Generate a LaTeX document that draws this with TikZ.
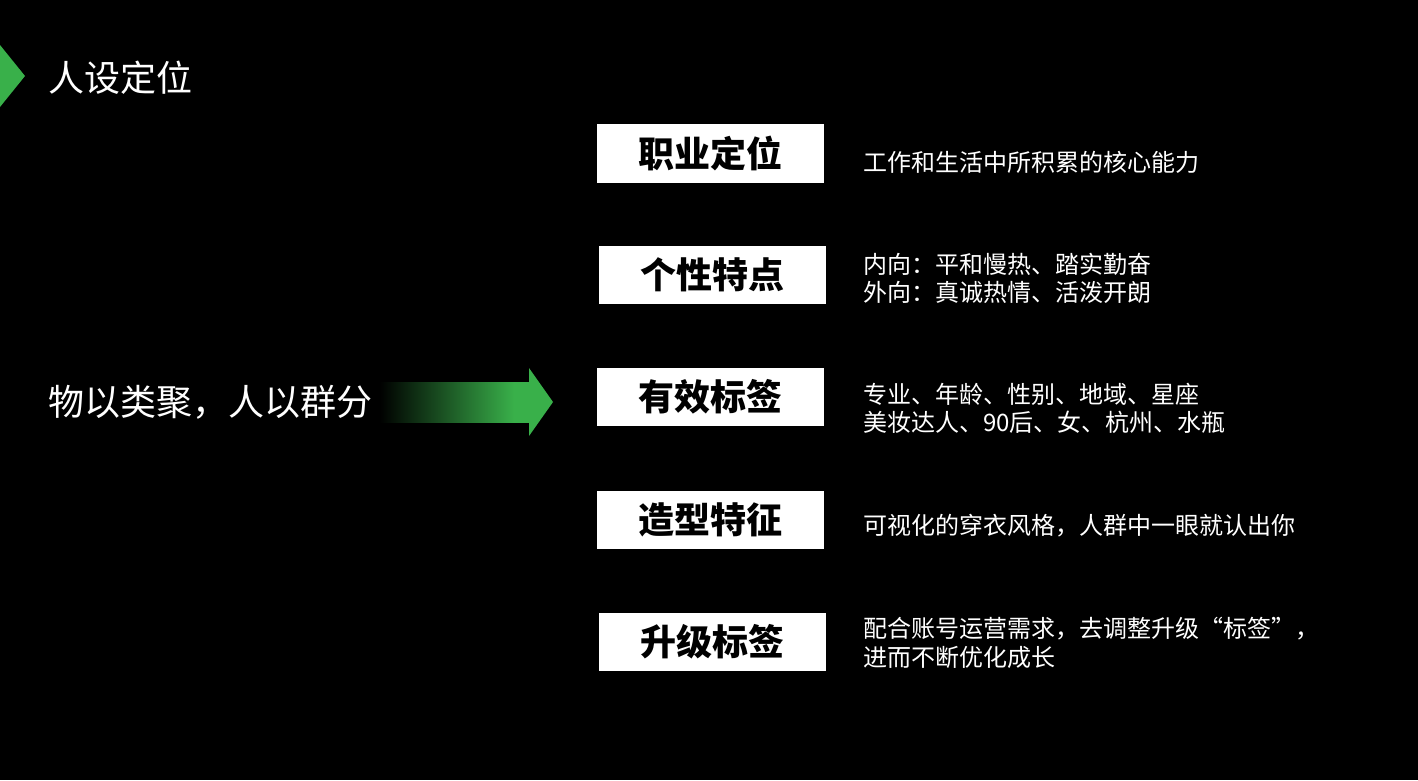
\documentclass[tikz,border=0pt]{standalone}
\usepackage{fontspec}
\newfontfamily\cjk{Noto Sans CJK SC}
\definecolor{grn}{RGB}{57,176,74}
\pgfdeclarehorizontalshading{arrowshade}{100bp}{color(0bp)=(black); color(28bp)=(black); color(45bp)=(black!60!grn); color(70bp)=(grn); color(100bp)=(grn)}
\tikzset{
  tagbox/.style={draw=none, fill=white},
  tagtext/.style={inner sep=0pt, text=black, font=\cjk\bfseries\fontsize{36}{40}\selectfont},
  desc/.style={anchor=base west, inner sep=0pt, text=white, align=left, font=\cjk\fontsize{24}{28.5}\selectfont},
  bigtext/.style={anchor=base west, inner sep=0pt, text=white, font=\cjk\fontsize{36}{40}\selectfont}
}
\begin{document}
\begin{tikzpicture}[x=1pt,y=-1pt]
\fill[black] (0,0) rectangle (1418,780);
\useasboundingbox (0,0) rectangle (1418,780);
% green marker
\fill[grn] (0,45) -- (25,76) -- (0,107) -- cycle;
\node[bigtext] (title) at (48,91) {人设定位};
% gradient arrow
\shade[shading=arrowshade] (370,382) rectangle (530,422);
\fill[grn] (529,368) -- (553,402) -- (529,436) -- cycle;
\node[bigtext] (left) at (48,415) {物以类聚，人以群分};
% boxes
\fill[tagbox] (597,124) rectangle (824,183); \node[tagtext] (b1) at (710.5,153.5) {职业定位};
\fill[tagbox] (599,246) rectangle (826,304); \node[tagtext] (b2) at (712.5,275) {个性特点};
\fill[tagbox] (597,368) rectangle (824,426); \node[tagtext] (b3) at (710.5,397) {有效标签};
\fill[tagbox] (597,491) rectangle (824,549); \node[tagtext] (b4) at (710.5,520) {造型特征};
\fill[tagbox] (599,613) rectangle (826,671); \node[tagtext] (b5) at (712.5,642) {升级标签};
% descriptions (multi-line nodes: base = last line)
\node[desc] (d1) at (863,171) {工作和生活中所积累的核心能力};
\node[desc] (d2) at (863,301.5) {内向：平和慢热、踏实勤奋\\外向：真诚热情、活泼开朗};
\node[desc] (d3) at (863,431.5) {专业、年龄、性别、地域、星座\\美妆达人、90后、女、杭州、水瓶};
\node[desc] (d4) at (863,534) {可视化的穿衣风格，人群中一眼就认出你};
\node[desc] (d5) at (863,666) {配合账号运营需求，去调整升级“标签”，\\进而不断优化成长};
\end{tikzpicture}
\end{document}
